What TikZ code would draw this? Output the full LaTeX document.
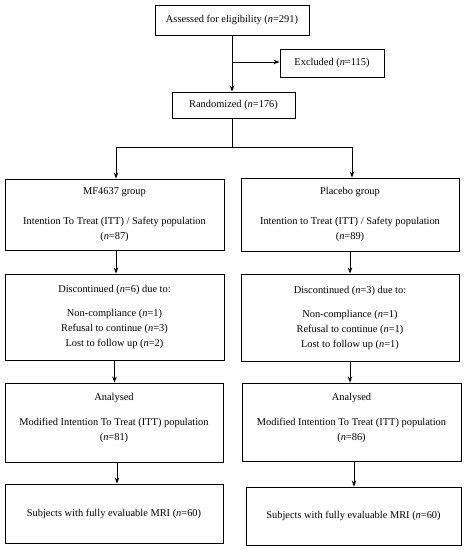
\documentclass[tikz,border=0pt]{standalone}
\usepackage{fontspec}
\setmainfont{Liberation Serif}
\usetikzlibrary{arrows.meta,calc}
\begin{document}
\begin{tikzpicture}[x=1pt,y=-1pt,
  box/.style={draw=black,line width=0.9pt,align=center,inner sep=0pt,
    font=\fontsize{10.4}{15}\selectfont},
  arr/.style={line width=0.9pt,-{Stealth[length=6pt,width=4.5pt]}},
  ln/.style={line width=0.9pt}]
\useasboundingbox (0,0) rectangle (469,550);
\node[box,minimum width=154pt,minimum height=30pt] (assess) at (232,20) {Assessed for eligibility (\textit{n}=291)};
\node[box,minimum width=104pt,minimum height=28pt] (excl) at (332,63) {Excluded (\textit{n}=115)};
\node[box,minimum width=123pt,minimum height=26pt] (rand) at (233.5,105) {Randomized (\textit{n}=176)};
\node[box,minimum width=219pt,minimum height=71pt] (g1) at (114.5,214.5) {MF4637 group\\[15pt]Intention To Treat (ITT) / Safety population\\(\textit{n}=87)};
\node[box,minimum width=218pt,minimum height=73pt] (g2) at (350,214.5) {Placebo group\\[15pt]Intention to Treat (ITT) / Safety population\\(\textit{n}=89)};
\node[box,minimum width=219pt,minimum height=86pt] (d1) at (114.5,317) {Discontinued (\textit{n}=6) due to:\\[9pt]Non-compliance (\textit{n}=1)\\Refusal to continue (\textit{n}=3)\\Lost to follow up (\textit{n}=2)};
\node[box,minimum width=218pt,minimum height=87pt] (d2) at (350,317.5) {Discontinued (\textit{n}=3) due to:\\[9pt]Non-compliance (\textit{n}=1)\\Refusal to continue (\textit{n}=1)\\Lost to follow up (\textit{n}=1)};
\node[box,minimum width=218pt,minimum height=79pt] (a1) at (114,422.5) {Analysed\\[10pt]Modified Intention To Treat (ITT) population\\(\textit{n}=81)\\[-4pt]};
\node[box,minimum width=219pt,minimum height=78pt] (a2) at (351.5,422) {Analysed\\[10pt]Modified Intention To Treat (ITT) population\\(\textit{n}=86)\\[-4pt]};
\node[box,minimum width=218pt,minimum height=59pt] (s1) at (114,513.5) {Subjects with fully evaluable MRI (\textit{n}=60)};
\node[box,minimum width=215pt,minimum height=58pt] (s2) at (353.5,516) {Subjects with fully evaluable MRI (\textit{n}=60)};
\coordinate (tap) at (232,62);
\coordinate (split) at (232,147);
\draw[arr] (assess.south -| tap) -- (rand.north -| tap);
\draw[arr] (tap) -- (excl.west |- tap);
\draw[ln] (rand.south -| split) -- (split);
\draw[arr] (split) -| ($(g1.north)+(1.5,0)$);
\draw[arr] (split) -| ($(g2.north)+(2,0)$);
\draw[arr] ($(g1.south)+(1.5,0)$) -- ($(d1.north)+(1.5,0)$);
\draw[arr] (g2.south) -- (d2.north);
\draw[arr] (d1.south) -- (d1.south |- a1.north);
\draw[arr] (d2.south) -- (d2.south |- a2.north);
\draw[arr] ($(a1.south)+(3,0)$) -- ($(a1.south |- s1.north)+(3,0)$);
\draw[arr] ($(a2.south)+(2.5,0)$) -- ($(a2.south |- s2.north)+(2.5,0)$);
\end{tikzpicture}
\end{document}
